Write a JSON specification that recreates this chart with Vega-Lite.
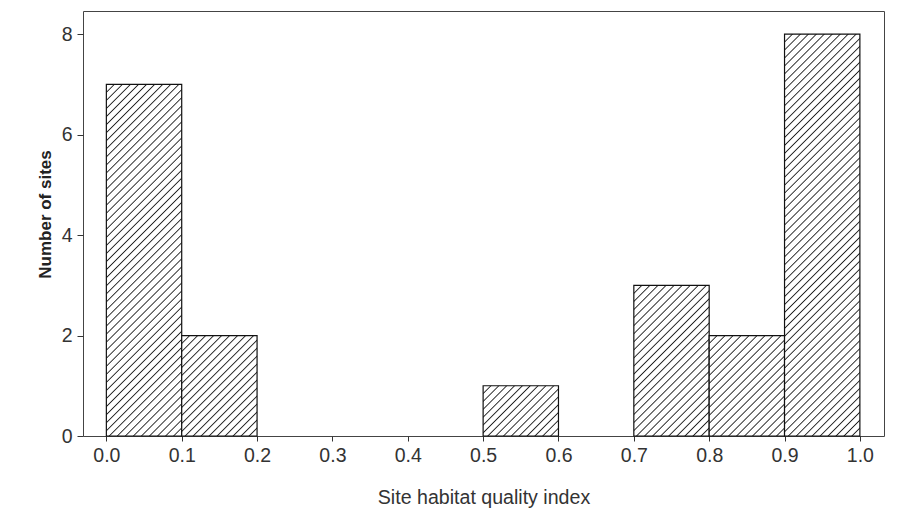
{
  "$schema": "https://vega.github.io/schema/vega-lite/v6.json",
  "width": 801,
  "height": 425,
  "autosize": {"type": "none"},
  "padding": {"left": 83, "top": 11, "right": 27, "bottom": 80},
  "background": "white",
  "config": {
    "font": "Liberation Sans",
    "view": {"stroke": "#444", "strokeWidth": 1}
  },
  "data": {
    "values": [
      {"bin_start": 0.0, "bin_end": 0.1, "count": 7},
      {"bin_start": 0.1, "bin_end": 0.2, "count": 2},
      {"bin_start": 0.5, "bin_end": 0.6, "count": 1},
      {"bin_start": 0.7, "bin_end": 0.8, "count": 3},
      {"bin_start": 0.8, "bin_end": 0.9, "count": 2},
      {"bin_start": 0.9, "bin_end": 1.0, "count": 8}
    ]
  },
  "mark": {"type": "bar", "stroke": "#111", "strokeWidth": 1.2},
  "encoding": {
    "x": {
      "field": "bin_start",
      "type": "quantitative",
      "scale": {"domain": [-0.031, 1.032], "nice": false, "zero": false},
      "axis": {
        "values": [0, 0.1, 0.2, 0.3, 0.4, 0.5, 0.6, 0.7, 0.8, 0.9, 1.0],
        "format": ".1f",
        "title": "Site habitat quality index",
        "domain": false,
        "grid": false,
        "tickSize": 5,
        "tickColor": "#333",
        "labelFontSize": 19.5,
        "labelColor": "#333",
        "labelPadding": 5,
        "titleFontSize": 19.6,
        "titleFontWeight": "normal",
        "titleColor": "#333",
        "titleBaseline": "alphabetic",
        "titleY": 67
      }
    },
    "x2": {"field": "bin_end"},
    "y": {
      "field": "count",
      "type": "quantitative",
      "scale": {"domain": [0, 8.46], "nice": false},
      "axis": {
        "values": [0, 2, 4, 6, 8],
        "title": "Number of sites",
        "domain": false,
        "grid": false,
        "tickSize": 6,
        "tickColor": "#333",
        "labelFontSize": 19.5,
        "labelColor": "#333",
        "labelPadding": 5,
        "titleFontSize": 17,
        "titleFontWeight": "bold",
        "titleColor": "#222",
        "titleBaseline": "alphabetic",
        "titleAlign": "center",
        "titleX": -32.5,
        "titleY": 203
      }
    },
    "y2": {"datum": 0},
    "fill": {
      "condition": [
        {"test": "datum.count === 1", "value": {"gradient": "linear", "x1": 0, "y1": 0, "x2": 1.1538, "y2": 0.7693, "stops": [
          {"offset":0.0521,"color":"#fff"},{"offset":0.0625,"color":"#222"},{"offset":0.0729,"color":"#fff"},
          {"offset":0.1146,"color":"#fff"},{"offset":0.125,"color":"#222"},{"offset":0.1354,"color":"#fff"},
          {"offset":0.1771,"color":"#fff"},{"offset":0.1875,"color":"#222"},{"offset":0.1979,"color":"#fff"},
          {"offset":0.2396,"color":"#fff"},{"offset":0.25,"color":"#222"},{"offset":0.2604,"color":"#fff"},
          {"offset":0.3021,"color":"#fff"},{"offset":0.3125,"color":"#222"},{"offset":0.3229,"color":"#fff"},
          {"offset":0.3646,"color":"#fff"},{"offset":0.375,"color":"#222"},{"offset":0.3854,"color":"#fff"},
          {"offset":0.4271,"color":"#fff"},{"offset":0.4375,"color":"#222"},{"offset":0.4479,"color":"#fff"},
          {"offset":0.4896,"color":"#fff"},{"offset":0.5,"color":"#222"},{"offset":0.5104,"color":"#fff"},
          {"offset":0.5521,"color":"#fff"},{"offset":0.5625,"color":"#222"},{"offset":0.5729,"color":"#fff"},
          {"offset":0.6146,"color":"#fff"},{"offset":0.625,"color":"#222"},{"offset":0.6354,"color":"#fff"},
          {"offset":0.6771,"color":"#fff"},{"offset":0.6875,"color":"#222"},{"offset":0.6979,"color":"#fff"},
          {"offset":0.7396,"color":"#fff"},{"offset":0.75,"color":"#222"},{"offset":0.7604,"color":"#fff"},
          {"offset":0.8021,"color":"#fff"},{"offset":0.8125,"color":"#222"},{"offset":0.8229,"color":"#fff"},
          {"offset":0.8646,"color":"#fff"},{"offset":0.875,"color":"#222"},{"offset":0.8854,"color":"#fff"},
          {"offset":0.9271,"color":"#fff"},{"offset":0.9375,"color":"#222"},{"offset":0.9479,"color":"#fff"}
        ]}},
        {"test": "datum.count === 2", "value": {"gradient": "linear", "x1": 0, "y1": 0, "x2": 0.8399, "y2": 1.1201, "stops": [
          {"offset":0.0381,"color":"#fff"},{"offset":0.0455,"color":"#222"},{"offset":0.0529,"color":"#fff"},
          {"offset":0.0835,"color":"#fff"},{"offset":0.0909,"color":"#222"},{"offset":0.0983,"color":"#fff"},
          {"offset":0.1290,"color":"#fff"},{"offset":0.1364,"color":"#222"},{"offset":0.1438,"color":"#fff"},
          {"offset":0.1744,"color":"#fff"},{"offset":0.1818,"color":"#222"},{"offset":0.1892,"color":"#fff"},
          {"offset":0.2199,"color":"#fff"},{"offset":0.2273,"color":"#222"},{"offset":0.2347,"color":"#fff"},
          {"offset":0.2653,"color":"#fff"},{"offset":0.2727,"color":"#222"},{"offset":0.2801,"color":"#fff"},
          {"offset":0.3108,"color":"#fff"},{"offset":0.3182,"color":"#222"},{"offset":0.3256,"color":"#fff"},
          {"offset":0.3562,"color":"#fff"},{"offset":0.3636,"color":"#222"},{"offset":0.3710,"color":"#fff"},
          {"offset":0.4017,"color":"#fff"},{"offset":0.4091,"color":"#222"},{"offset":0.4165,"color":"#fff"},
          {"offset":0.4471,"color":"#fff"},{"offset":0.4545,"color":"#222"},{"offset":0.4619,"color":"#fff"},
          {"offset":0.4926,"color":"#fff"},{"offset":0.5,"color":"#222"},{"offset":0.5074,"color":"#fff"},
          {"offset":0.5381,"color":"#fff"},{"offset":0.5455,"color":"#222"},{"offset":0.5529,"color":"#fff"},
          {"offset":0.5835,"color":"#fff"},{"offset":0.5909,"color":"#222"},{"offset":0.5983,"color":"#fff"},
          {"offset":0.6290,"color":"#fff"},{"offset":0.6364,"color":"#222"},{"offset":0.6438,"color":"#fff"},
          {"offset":0.6744,"color":"#fff"},{"offset":0.6818,"color":"#222"},{"offset":0.6892,"color":"#fff"},
          {"offset":0.7199,"color":"#fff"},{"offset":0.7273,"color":"#222"},{"offset":0.7347,"color":"#fff"},
          {"offset":0.7653,"color":"#fff"},{"offset":0.7727,"color":"#222"},{"offset":0.7801,"color":"#fff"},
          {"offset":0.8108,"color":"#fff"},{"offset":0.8182,"color":"#222"},{"offset":0.8256,"color":"#fff"},
          {"offset":0.8562,"color":"#fff"},{"offset":0.8636,"color":"#222"},{"offset":0.8710,"color":"#fff"},
          {"offset":0.9017,"color":"#fff"},{"offset":0.9091,"color":"#222"},{"offset":0.9165,"color":"#fff"},
          {"offset":0.9471,"color":"#fff"},{"offset":0.9545,"color":"#222"},{"offset":0.9619,"color":"#fff"}
        ]}},
        {"test": "datum.count === 3", "value": {"gradient": "linear", "x1": 0, "y1": 0, "x2": 0.5999, "y2": 1.2, "stops": [
          {"offset":0.0299,"color":"#fff"},{"offset":0.0357,"color":"#222"},{"offset":0.0415,"color":"#fff"},
          {"offset":0.0656,"color":"#fff"},{"offset":0.0714,"color":"#222"},{"offset":0.0772,"color":"#fff"},
          {"offset":0.1013,"color":"#fff"},{"offset":0.1071,"color":"#222"},{"offset":0.1129,"color":"#fff"},
          {"offset":0.1371,"color":"#fff"},{"offset":0.1429,"color":"#222"},{"offset":0.1487,"color":"#fff"},
          {"offset":0.1728,"color":"#fff"},{"offset":0.1786,"color":"#222"},{"offset":0.1844,"color":"#fff"},
          {"offset":0.2085,"color":"#fff"},{"offset":0.2143,"color":"#222"},{"offset":0.2201,"color":"#fff"},
          {"offset":0.2442,"color":"#fff"},{"offset":0.25,"color":"#222"},{"offset":0.2558,"color":"#fff"},
          {"offset":0.2799,"color":"#fff"},{"offset":0.2857,"color":"#222"},{"offset":0.2915,"color":"#fff"},
          {"offset":0.3156,"color":"#fff"},{"offset":0.3214,"color":"#222"},{"offset":0.3272,"color":"#fff"},
          {"offset":0.3513,"color":"#fff"},{"offset":0.3571,"color":"#222"},{"offset":0.3629,"color":"#fff"},
          {"offset":0.3871,"color":"#fff"},{"offset":0.3929,"color":"#222"},{"offset":0.3987,"color":"#fff"},
          {"offset":0.4228,"color":"#fff"},{"offset":0.4286,"color":"#222"},{"offset":0.4344,"color":"#fff"},
          {"offset":0.4585,"color":"#fff"},{"offset":0.4643,"color":"#222"},{"offset":0.4701,"color":"#fff"},
          {"offset":0.4942,"color":"#fff"},{"offset":0.5,"color":"#222"},{"offset":0.5058,"color":"#fff"},
          {"offset":0.5299,"color":"#fff"},{"offset":0.5357,"color":"#222"},{"offset":0.5415,"color":"#fff"},
          {"offset":0.5656,"color":"#fff"},{"offset":0.5714,"color":"#222"},{"offset":0.5772,"color":"#fff"},
          {"offset":0.6013,"color":"#fff"},{"offset":0.6071,"color":"#222"},{"offset":0.6129,"color":"#fff"},
          {"offset":0.6371,"color":"#fff"},{"offset":0.6429,"color":"#222"},{"offset":0.6487,"color":"#fff"},
          {"offset":0.6728,"color":"#fff"},{"offset":0.6786,"color":"#222"},{"offset":0.6844,"color":"#fff"},
          {"offset":0.7085,"color":"#fff"},{"offset":0.7143,"color":"#222"},{"offset":0.7201,"color":"#fff"},
          {"offset":0.7442,"color":"#fff"},{"offset":0.75,"color":"#222"},{"offset":0.7558,"color":"#fff"},
          {"offset":0.7799,"color":"#fff"},{"offset":0.7857,"color":"#222"},{"offset":0.7915,"color":"#fff"},
          {"offset":0.8156,"color":"#fff"},{"offset":0.8214,"color":"#222"},{"offset":0.8272,"color":"#fff"},
          {"offset":0.8513,"color":"#fff"},{"offset":0.8571,"color":"#222"},{"offset":0.8629,"color":"#fff"},
          {"offset":0.8871,"color":"#fff"},{"offset":0.8929,"color":"#222"},{"offset":0.8987,"color":"#fff"},
          {"offset":0.9228,"color":"#fff"},{"offset":0.9286,"color":"#222"},{"offset":0.9344,"color":"#fff"},
          {"offset":0.9585,"color":"#fff"},{"offset":0.9643,"color":"#222"},{"offset":0.9701,"color":"#fff"}
        ]}},
        {"test": "datum.count === 7", "value": {"gradient": "linear", "x1": 0, "y1": 0, "x2": 0.24875, "y2": 1.16097, "stops": [
          {"offset":0.0159,"color":"#fff"},{"offset":0.0189,"color":"#222"},{"offset":0.0219,"color":"#fff"},
          {"offset":0.0347,"color":"#fff"},{"offset":0.0377,"color":"#222"},{"offset":0.0407,"color":"#fff"},
          {"offset":0.0536,"color":"#fff"},{"offset":0.0566,"color":"#222"},{"offset":0.0596,"color":"#fff"},
          {"offset":0.0725,"color":"#fff"},{"offset":0.0755,"color":"#222"},{"offset":0.0785,"color":"#fff"},
          {"offset":0.0913,"color":"#fff"},{"offset":0.0943,"color":"#222"},{"offset":0.0973,"color":"#fff"},
          {"offset":0.1102,"color":"#fff"},{"offset":0.1132,"color":"#222"},{"offset":0.1162,"color":"#fff"},
          {"offset":0.1291,"color":"#fff"},{"offset":0.1321,"color":"#222"},{"offset":0.1351,"color":"#fff"},
          {"offset":0.1479,"color":"#fff"},{"offset":0.1509,"color":"#222"},{"offset":0.1539,"color":"#fff"},
          {"offset":0.1668,"color":"#fff"},{"offset":0.1698,"color":"#222"},{"offset":0.1728,"color":"#fff"},
          {"offset":0.1857,"color":"#fff"},{"offset":0.1887,"color":"#222"},{"offset":0.1917,"color":"#fff"},
          {"offset":0.2045,"color":"#fff"},{"offset":0.2075,"color":"#222"},{"offset":0.2105,"color":"#fff"},
          {"offset":0.2234,"color":"#fff"},{"offset":0.2264,"color":"#222"},{"offset":0.2294,"color":"#fff"},
          {"offset":0.2423,"color":"#fff"},{"offset":0.2453,"color":"#222"},{"offset":0.2483,"color":"#fff"},
          {"offset":0.2612,"color":"#fff"},{"offset":0.2642,"color":"#222"},{"offset":0.2672,"color":"#fff"},
          {"offset":0.2800,"color":"#fff"},{"offset":0.2830,"color":"#222"},{"offset":0.2860,"color":"#fff"},
          {"offset":0.2989,"color":"#fff"},{"offset":0.3019,"color":"#222"},{"offset":0.3049,"color":"#fff"},
          {"offset":0.3178,"color":"#fff"},{"offset":0.3208,"color":"#222"},{"offset":0.3238,"color":"#fff"},
          {"offset":0.3366,"color":"#fff"},{"offset":0.3396,"color":"#222"},{"offset":0.3426,"color":"#fff"},
          {"offset":0.3555,"color":"#fff"},{"offset":0.3585,"color":"#222"},{"offset":0.3615,"color":"#fff"},
          {"offset":0.3744,"color":"#fff"},{"offset":0.3774,"color":"#222"},{"offset":0.3804,"color":"#fff"},
          {"offset":0.3932,"color":"#fff"},{"offset":0.3962,"color":"#222"},{"offset":0.3992,"color":"#fff"},
          {"offset":0.4121,"color":"#fff"},{"offset":0.4151,"color":"#222"},{"offset":0.4181,"color":"#fff"},
          {"offset":0.4310,"color":"#fff"},{"offset":0.4340,"color":"#222"},{"offset":0.4370,"color":"#fff"},
          {"offset":0.4498,"color":"#fff"},{"offset":0.4528,"color":"#222"},{"offset":0.4558,"color":"#fff"},
          {"offset":0.4687,"color":"#fff"},{"offset":0.4717,"color":"#222"},{"offset":0.4747,"color":"#fff"},
          {"offset":0.4876,"color":"#fff"},{"offset":0.4906,"color":"#222"},{"offset":0.4936,"color":"#fff"},
          {"offset":0.5064,"color":"#fff"},{"offset":0.5094,"color":"#222"},{"offset":0.5124,"color":"#fff"},
          {"offset":0.5253,"color":"#fff"},{"offset":0.5283,"color":"#222"},{"offset":0.5313,"color":"#fff"},
          {"offset":0.5442,"color":"#fff"},{"offset":0.5472,"color":"#222"},{"offset":0.5502,"color":"#fff"},
          {"offset":0.5630,"color":"#fff"},{"offset":0.5660,"color":"#222"},{"offset":0.5690,"color":"#fff"},
          {"offset":0.5819,"color":"#fff"},{"offset":0.5849,"color":"#222"},{"offset":0.5879,"color":"#fff"},
          {"offset":0.6008,"color":"#fff"},{"offset":0.6038,"color":"#222"},{"offset":0.6068,"color":"#fff"},
          {"offset":0.6196,"color":"#fff"},{"offset":0.6226,"color":"#222"},{"offset":0.6256,"color":"#fff"},
          {"offset":0.6385,"color":"#fff"},{"offset":0.6415,"color":"#222"},{"offset":0.6445,"color":"#fff"},
          {"offset":0.6574,"color":"#fff"},{"offset":0.6604,"color":"#222"},{"offset":0.6634,"color":"#fff"},
          {"offset":0.6762,"color":"#fff"},{"offset":0.6792,"color":"#222"},{"offset":0.6822,"color":"#fff"},
          {"offset":0.6951,"color":"#fff"},{"offset":0.6981,"color":"#222"},{"offset":0.7011,"color":"#fff"},
          {"offset":0.7140,"color":"#fff"},{"offset":0.7170,"color":"#222"},{"offset":0.7200,"color":"#fff"},
          {"offset":0.7328,"color":"#fff"},{"offset":0.7358,"color":"#222"},{"offset":0.7388,"color":"#fff"},
          {"offset":0.7517,"color":"#fff"},{"offset":0.7547,"color":"#222"},{"offset":0.7577,"color":"#fff"},
          {"offset":0.7706,"color":"#fff"},{"offset":0.7736,"color":"#222"},{"offset":0.7766,"color":"#fff"},
          {"offset":0.7895,"color":"#fff"},{"offset":0.7925,"color":"#222"},{"offset":0.7955,"color":"#fff"},
          {"offset":0.8083,"color":"#fff"},{"offset":0.8113,"color":"#222"},{"offset":0.8143,"color":"#fff"},
          {"offset":0.8272,"color":"#fff"},{"offset":0.8302,"color":"#222"},{"offset":0.8332,"color":"#fff"},
          {"offset":0.8461,"color":"#fff"},{"offset":0.8491,"color":"#222"},{"offset":0.8521,"color":"#fff"},
          {"offset":0.8649,"color":"#fff"},{"offset":0.8679,"color":"#222"},{"offset":0.8709,"color":"#fff"},
          {"offset":0.8838,"color":"#fff"},{"offset":0.8868,"color":"#222"},{"offset":0.8898,"color":"#fff"},
          {"offset":0.9027,"color":"#fff"},{"offset":0.9057,"color":"#222"},{"offset":0.9087,"color":"#fff"},
          {"offset":0.9215,"color":"#fff"},{"offset":0.9245,"color":"#222"},{"offset":0.9275,"color":"#fff"},
          {"offset":0.9404,"color":"#fff"},{"offset":0.9434,"color":"#222"},{"offset":0.9464,"color":"#fff"},
          {"offset":0.9593,"color":"#fff"},{"offset":0.9623,"color":"#222"},{"offset":0.9653,"color":"#fff"},
          {"offset":0.9781,"color":"#fff"},{"offset":0.9811,"color":"#222"},{"offset":0.9841,"color":"#fff"}
        ]}},
        {"test": "datum.count === 8", "value": {"gradient": "linear", "x1": 0, "y1": 0, "x2": 0.21507, "y2": 1.14716, "stops": [
          {"offset":0.0140,"color":"#fff"},{"offset":0.0167,"color":"#222"},{"offset":0.0194,"color":"#fff"},
          {"offset":0.0306,"color":"#fff"},{"offset":0.0333,"color":"#222"},{"offset":0.0360,"color":"#fff"},
          {"offset":0.0473,"color":"#fff"},{"offset":0.05,"color":"#222"},{"offset":0.0527,"color":"#fff"},
          {"offset":0.0640,"color":"#fff"},{"offset":0.0667,"color":"#222"},{"offset":0.0694,"color":"#fff"},
          {"offset":0.0806,"color":"#fff"},{"offset":0.0833,"color":"#222"},{"offset":0.0860,"color":"#fff"},
          {"offset":0.0973,"color":"#fff"},{"offset":0.1,"color":"#222"},{"offset":0.1027,"color":"#fff"},
          {"offset":0.1140,"color":"#fff"},{"offset":0.1167,"color":"#222"},{"offset":0.1194,"color":"#fff"},
          {"offset":0.1306,"color":"#fff"},{"offset":0.1333,"color":"#222"},{"offset":0.1360,"color":"#fff"},
          {"offset":0.1473,"color":"#fff"},{"offset":0.15,"color":"#222"},{"offset":0.1527,"color":"#fff"},
          {"offset":0.1640,"color":"#fff"},{"offset":0.1667,"color":"#222"},{"offset":0.1694,"color":"#fff"},
          {"offset":0.1806,"color":"#fff"},{"offset":0.1833,"color":"#222"},{"offset":0.1860,"color":"#fff"},
          {"offset":0.1973,"color":"#fff"},{"offset":0.2,"color":"#222"},{"offset":0.2027,"color":"#fff"},
          {"offset":0.2140,"color":"#fff"},{"offset":0.2167,"color":"#222"},{"offset":0.2194,"color":"#fff"},
          {"offset":0.2306,"color":"#fff"},{"offset":0.2333,"color":"#222"},{"offset":0.2360,"color":"#fff"},
          {"offset":0.2473,"color":"#fff"},{"offset":0.25,"color":"#222"},{"offset":0.2527,"color":"#fff"},
          {"offset":0.2640,"color":"#fff"},{"offset":0.2667,"color":"#222"},{"offset":0.2694,"color":"#fff"},
          {"offset":0.2806,"color":"#fff"},{"offset":0.2833,"color":"#222"},{"offset":0.2860,"color":"#fff"},
          {"offset":0.2973,"color":"#fff"},{"offset":0.3,"color":"#222"},{"offset":0.3027,"color":"#fff"},
          {"offset":0.3140,"color":"#fff"},{"offset":0.3167,"color":"#222"},{"offset":0.3194,"color":"#fff"},
          {"offset":0.3306,"color":"#fff"},{"offset":0.3333,"color":"#222"},{"offset":0.3360,"color":"#fff"},
          {"offset":0.3473,"color":"#fff"},{"offset":0.35,"color":"#222"},{"offset":0.3527,"color":"#fff"},
          {"offset":0.3640,"color":"#fff"},{"offset":0.3667,"color":"#222"},{"offset":0.3694,"color":"#fff"},
          {"offset":0.3806,"color":"#fff"},{"offset":0.3833,"color":"#222"},{"offset":0.3860,"color":"#fff"},
          {"offset":0.3973,"color":"#fff"},{"offset":0.4,"color":"#222"},{"offset":0.4027,"color":"#fff"},
          {"offset":0.4140,"color":"#fff"},{"offset":0.4167,"color":"#222"},{"offset":0.4194,"color":"#fff"},
          {"offset":0.4306,"color":"#fff"},{"offset":0.4333,"color":"#222"},{"offset":0.4360,"color":"#fff"},
          {"offset":0.4473,"color":"#fff"},{"offset":0.45,"color":"#222"},{"offset":0.4527,"color":"#fff"},
          {"offset":0.4640,"color":"#fff"},{"offset":0.4667,"color":"#222"},{"offset":0.4694,"color":"#fff"},
          {"offset":0.4806,"color":"#fff"},{"offset":0.4833,"color":"#222"},{"offset":0.4860,"color":"#fff"},
          {"offset":0.4973,"color":"#fff"},{"offset":0.5,"color":"#222"},{"offset":0.5027,"color":"#fff"},
          {"offset":0.5140,"color":"#fff"},{"offset":0.5167,"color":"#222"},{"offset":0.5194,"color":"#fff"},
          {"offset":0.5306,"color":"#fff"},{"offset":0.5333,"color":"#222"},{"offset":0.5360,"color":"#fff"},
          {"offset":0.5473,"color":"#fff"},{"offset":0.55,"color":"#222"},{"offset":0.5527,"color":"#fff"},
          {"offset":0.5640,"color":"#fff"},{"offset":0.5667,"color":"#222"},{"offset":0.5694,"color":"#fff"},
          {"offset":0.5806,"color":"#fff"},{"offset":0.5833,"color":"#222"},{"offset":0.5860,"color":"#fff"},
          {"offset":0.5973,"color":"#fff"},{"offset":0.6,"color":"#222"},{"offset":0.6027,"color":"#fff"},
          {"offset":0.6140,"color":"#fff"},{"offset":0.6167,"color":"#222"},{"offset":0.6194,"color":"#fff"},
          {"offset":0.6306,"color":"#fff"},{"offset":0.6333,"color":"#222"},{"offset":0.6360,"color":"#fff"},
          {"offset":0.6473,"color":"#fff"},{"offset":0.65,"color":"#222"},{"offset":0.6527,"color":"#fff"},
          {"offset":0.6640,"color":"#fff"},{"offset":0.6667,"color":"#222"},{"offset":0.6694,"color":"#fff"},
          {"offset":0.6806,"color":"#fff"},{"offset":0.6833,"color":"#222"},{"offset":0.6860,"color":"#fff"},
          {"offset":0.6973,"color":"#fff"},{"offset":0.7,"color":"#222"},{"offset":0.7027,"color":"#fff"},
          {"offset":0.7140,"color":"#fff"},{"offset":0.7167,"color":"#222"},{"offset":0.7194,"color":"#fff"},
          {"offset":0.7306,"color":"#fff"},{"offset":0.7333,"color":"#222"},{"offset":0.7360,"color":"#fff"},
          {"offset":0.7473,"color":"#fff"},{"offset":0.75,"color":"#222"},{"offset":0.7527,"color":"#fff"},
          {"offset":0.7640,"color":"#fff"},{"offset":0.7667,"color":"#222"},{"offset":0.7694,"color":"#fff"},
          {"offset":0.7806,"color":"#fff"},{"offset":0.7833,"color":"#222"},{"offset":0.7860,"color":"#fff"},
          {"offset":0.7973,"color":"#fff"},{"offset":0.8,"color":"#222"},{"offset":0.8027,"color":"#fff"},
          {"offset":0.8140,"color":"#fff"},{"offset":0.8167,"color":"#222"},{"offset":0.8194,"color":"#fff"},
          {"offset":0.8306,"color":"#fff"},{"offset":0.8333,"color":"#222"},{"offset":0.8360,"color":"#fff"},
          {"offset":0.8473,"color":"#fff"},{"offset":0.85,"color":"#222"},{"offset":0.8527,"color":"#fff"},
          {"offset":0.8640,"color":"#fff"},{"offset":0.8667,"color":"#222"},{"offset":0.8694,"color":"#fff"},
          {"offset":0.8806,"color":"#fff"},{"offset":0.8833,"color":"#222"},{"offset":0.8860,"color":"#fff"},
          {"offset":0.8973,"color":"#fff"},{"offset":0.9,"color":"#222"},{"offset":0.9027,"color":"#fff"},
          {"offset":0.9140,"color":"#fff"},{"offset":0.9167,"color":"#222"},{"offset":0.9194,"color":"#fff"},
          {"offset":0.9306,"color":"#fff"},{"offset":0.9333,"color":"#222"},{"offset":0.9360,"color":"#fff"},
          {"offset":0.9473,"color":"#fff"},{"offset":0.95,"color":"#222"},{"offset":0.9527,"color":"#fff"},
          {"offset":0.9640,"color":"#fff"},{"offset":0.9667,"color":"#222"},{"offset":0.9694,"color":"#fff"},
          {"offset":0.9806,"color":"#fff"},{"offset":0.9833,"color":"#222"},{"offset":0.9860,"color":"#fff"}
        ]}}
      ],
      "value": "white"
    }
  }
}
